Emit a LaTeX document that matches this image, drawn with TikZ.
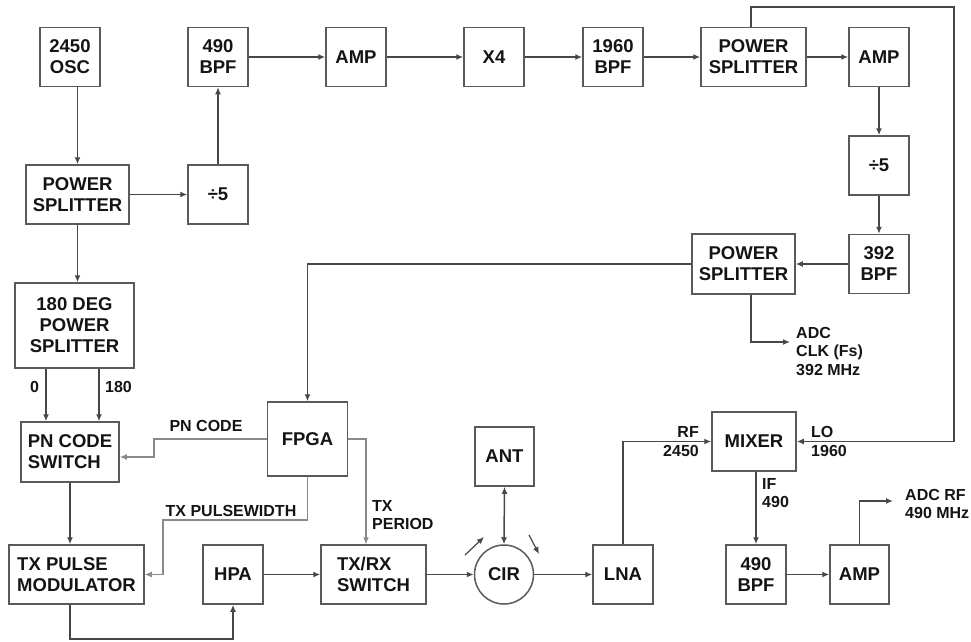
\documentclass[tikz,border=0pt]{standalone}
\usepackage{fontspec}
\setmainfont{Liberation Sans}
\usetikzlibrary{arrows.meta}
\definecolor{linec}{HTML}{474747}
\definecolor{boxc}{HTML}{5A5A5A}
\definecolor{ctlc}{HTML}{8A8A8A}
\definecolor{txtc}{HTML}{141414}
\begin{document}
\begin{tikzpicture}[x=1pt,y=-1pt,
  blk/.style={draw=boxc,line width=1.5pt,minimum width=60pt,minimum height=59pt,inner sep=2pt,
    text=txtc,font=\bfseries\fontsize{18.5}{21}\selectfont,align=center},
  wide/.style={blk,minimum width=#1},
  lbl/.style={text=txtc,font=\bfseries\fontsize{16}{18.5}\selectfont,inner sep=0pt},
  conn/.style={draw=linec,line width=1.5pt,-{Latex[length=7pt,width=6pt]}},
  ctl/.style={draw=ctlc,line width=1.2pt,-{Latex[length=7pt,width=6pt]}}]
\useasboundingbox (0,0) rectangle (971,641);

% top row
\node[blk] (osc) at (70,57) {2450\\OSC};
\node[blk] (bpf1) at (218,57) {490\\BPF};
\node[blk] (amp1) at (356,57) {AMP};
\node[blk] (x4) at (494,57) {X4};
\node[blk] (bpf2) at (613,57) {1960\\BPF};
\node[wide=105pt] (pstop) at (753.5,57) {POWER\\SPLITTER};
\node[blk] (amp2) at (879,57) {AMP};
\node[blk] (div2) at (879,165.5) {÷5};
\node[blk] (bpf392) at (879,264) {392\\BPF};
\node[wide=103pt,minimum height=60pt] (psmid) at (743.5,264) {POWER\\SPLITTER};

% left column
\node[wide=103pt] (psl) at (77.5,194.5) {POWER\\SPLITTER};
\node[blk] (div1) at (218,194.5) {÷5};
\node[wide=119pt,minimum height=85pt] (ps180) at (74.5,325.5) {180 DEG\\POWER\\SPLITTER};
\node[wide=98pt,minimum height=60pt,align=left] (pnsw) at (70,452) {PN CODE\\SWITCH};
\node[wide=80pt,minimum height=74pt] (fpga) at (307.5,439) {FPGA};
\node[wide=135pt,align=left] (txmod) at (76.5,574.5) {TX PULSE\\MODULATOR};
\node[blk] (hpa) at (233,574.5) {HPA};
\node[wide=105pt,align=left] (txrx) at (373.5,574.5) {TX/RX\\SWITCH};
\node[blk,circle,minimum size=59pt] (cir) at (504,574.5) {CIR};
\node[blk,minimum width=59pt] (ant) at (504.5,456.5) {ANT};
\node[blk] (lna) at (623,574.5) {LNA};
\node[wide=84pt] (mixer) at (754,441.5) {MIXER};
\node[blk] (bpf3) at (756,574.5) {490\\BPF};
\node[blk,minimum width=59pt] (amp3) at (859.5,574.5) {AMP};

% top chain
\draw[conn] (div1.north) -- (bpf1.south);
\draw[conn] (bpf1.east) -- (amp1.west);
\draw[conn] (amp1.east) -- (x4.west);
\draw[conn] (x4.east) -- (bpf2.west);
\draw[conn] (bpf2.east) -- (pstop.west);
\draw[conn] (pstop.east) -- (amp2.west);
\draw[conn] (amp2.south) -- (div2.north);
\draw[conn] (div2.south) -- (bpf392.north);
\draw[conn] (bpf392.west) -- (psmid.east);
\draw[conn] (psmid.west) -| (fpga.north);
\coordinate (adcclk) at (790,342);
\draw[conn] ([xshift=7.5pt]psmid.south) |- (adcclk);
\node[lbl,anchor=west,align=left] (adcclkl) at (796,351) {ADC\\CLK (Fs)\\392 MHz};

% LO feedback
\coordinate (lotop) at (954,7);
\draw[conn] ([xshift=-2.5pt]pstop.north) |- (lotop) |- (mixer.east);

% left chain
\draw[conn] (osc.south -| psl.north) -- (psl.north);
\draw[conn] (psl.east) -- (div1.west);
\draw[conn] (psl.south) -- (psl.south |- ps180.north);
\coordinate (p0) at (46,0);
\coordinate (p180) at (99,0);
\draw[conn] (p0 |- ps180.south) -- (p0 |- pnsw.north);
\draw[conn] (p180 |- ps180.south) -- (p180 |- pnsw.north);
\node[lbl] (l0) at (34.5,387) {0};
\node[lbl] (l180) at (118.5,387) {180};
\draw[conn] (pnsw.south) -- (pnsw.south |- txmod.north);
\coordinate (bot) at (70,639);
\draw[conn] (pnsw.south |- txmod.south) -- (bot) -| (hpa.south);
\draw[conn] (hpa.east) -- (txrx.west);
\draw[conn] (txrx.east) -- (cir.west);
\draw[conn] (cir.east) -- (lna.west);
\draw[draw=linec,line width=1.5pt,{Latex[length=7pt,width=6pt]}-{Latex[length=7pt,width=6pt]}] (ant.south) -- (cir.north);
\coordinate (da1) at (465,555);
\coordinate (da2) at (484,537);
\coordinate (db1) at (529,535);
\coordinate (db2) at (539,554);
\draw[conn,line width=1.2pt] (da1) -- (da2);
\draw[conn,line width=1.2pt] (db1) -- (db2);

% FPGA controls
\coordinate (pnbend) at (154,457);
\draw[ctl] (fpga.west) -| (pnbend) -- (pnbend -| pnsw.east);
\node[lbl] (pnl) at (206,426) {PN CODE};
\coordinate (pwbend) at (163,520);
\draw[ctl] (fpga.south) |- (pwbend) |- (txmod.east);
\node[lbl] (pwl) at (231,511) {TX PULSEWIDTH};
\coordinate (tpx) at (366,0);
\draw[ctl] (fpga.east) -| (tpx |- txrx.north);
\node[lbl,anchor=west,align=left] (tpl) at (372,515) {TX\\PERIOD};

% receive chain
\draw[conn] (lna.north) |- (mixer.west);
\node[lbl,anchor=east,align=right] (rfl) at (699,441.5) {RF\\2450};
\node[lbl,anchor=west,align=left] (lol) at (811,441.5) {LO\\1960};
\draw[conn] (bpf3.north |- mixer.south) -- (bpf3.north);
\node[lbl,anchor=west,align=left] (ifl) at (762,493) {IF\\490};
\draw[conn] (bpf3.east) -- (amp3.west);
\coordinate (adcrf) at (893,501);
\draw[conn] (amp3.north) |- (adcrf);
\node[lbl,anchor=west,align=left] (adcrfl) at (905,504) {ADC RF\\490 MHz};
\end{tikzpicture}
\end{document}
